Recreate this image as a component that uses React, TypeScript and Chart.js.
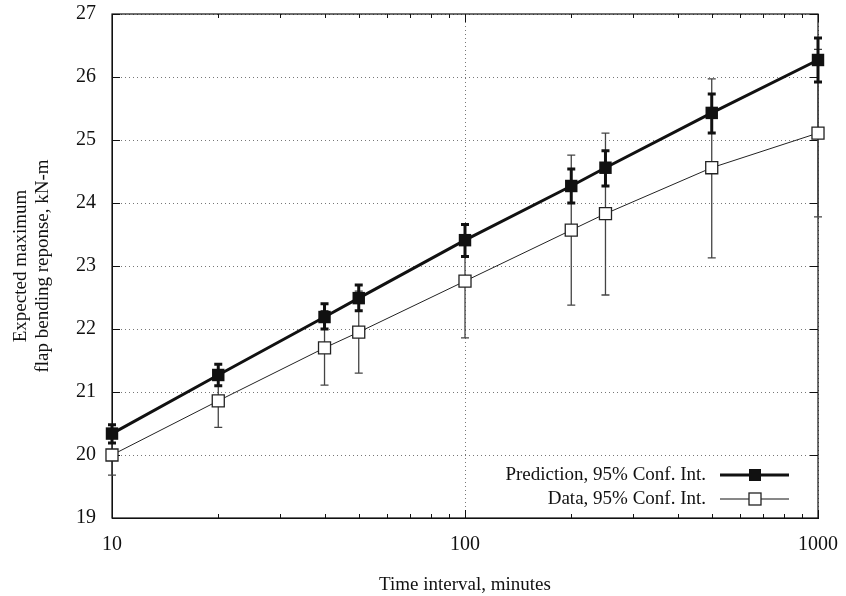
import React, { useEffect, useRef } from 'react';
import { Chart, registerables } from 'chart.js';

Chart.register(...registerables);

const intervals = [10, 20, 40, 50, 100, 200, 250, 500, 1000];
const predMean = [20.34, 21.27, 22.19, 22.49, 23.41, 24.27, 24.56, 25.43, 26.27];
const predLow = [20.19, 21.1, 22.0, 22.29, 23.15, 24.0, 24.27, 25.11, 25.92];
const predHigh = [20.48, 21.44, 22.4, 22.7, 23.66, 24.54, 24.83, 25.73, 26.62];
const dataMean = [20.0, 20.86, 21.7, 21.95, 22.76, 23.57, 23.83, 24.56, 25.11];
const dataLow = [19.68, 20.44, 21.11, 21.3, 21.86, 22.38, 22.54, 23.13, 23.78];
const dataHigh = [20.32, 21.28, 22.29, 22.6, 23.66, 24.76, 25.11, 25.97, 26.44];
const xTickValues = [10, 100, 1000];
const xMinorTicks = [20, 30, 40, 50, 60, 70, 80, 90, 200, 300, 400, 500, 600, 700, 800, 900];
const yTickValues = [19, 20, 21, 22, 23, 24, 25, 26, 27];
const seriesNames = ['Prediction, 95% Conf. Int.', 'Data, 95% Conf. Int.'];
const xTitle = 'Time interval, minutes';
const yTitle = ['Expected maximum', 'flap bending reponse, kN-m'];

const FONT = "'Liberation Serif', 'DejaVu Serif', serif";

const overlay = {
  id: 'overlay',
  beforeDatasetsDraw(chart: any) {
    const ctx = chart.ctx;
    const { left, right, top, bottom } = chart.chartArea;
    const xs = chart.scales.x;
    const ys = chart.scales.y;
    ctx.save();
    ctx.strokeStyle = '#111';
    ctx.lineWidth = 1.2;
    ctx.strokeRect(left, top, right - left, bottom - top);
    ctx.lineWidth = 1;
    ctx.beginPath();
    yTickValues.forEach((v) => {
      const y = Math.round(ys.getPixelForValue(v)) + 0.5;
      ctx.moveTo(left, y); ctx.lineTo(left + 8, y);
      ctx.moveTo(right, y); ctx.lineTo(right - 8, y);
    });
    xTickValues.forEach((v) => {
      const x = Math.round(xs.getPixelForValue(v)) + 0.5;
      ctx.moveTo(x, bottom); ctx.lineTo(x, bottom - 8);
      ctx.moveTo(x, top); ctx.lineTo(x, top + 8);
    });
    xMinorTicks.forEach((v) => {
      const x = Math.round(xs.getPixelForValue(v)) + 0.5;
      ctx.moveTo(x, bottom); ctx.lineTo(x, bottom - 4);
      ctx.moveTo(x, top); ctx.lineTo(x, top + 4);
    });
    ctx.stroke();

    const drawBars = (lo: number[], hi: number[], width: number, color: string, cap: number) => {
      ctx.strokeStyle = color;
      ctx.lineWidth = width;
      ctx.beginPath();
      intervals.forEach((t, i) => {
        const x = xs.getPixelForValue(t);
        const y1 = ys.getPixelForValue(lo[i]);
        const y2 = ys.getPixelForValue(hi[i]);
        ctx.moveTo(x, y1); ctx.lineTo(x, y2);
        ctx.moveTo(x - cap, y1); ctx.lineTo(x + cap, y1);
        ctx.moveTo(x - cap, y2); ctx.lineTo(x + cap, y2);
      });
      ctx.stroke();
    };
    drawBars(dataLow, dataHigh, 1.3, '#444', 4);
    drawBars(predLow, predHigh, 3, '#111', 4);
    ctx.restore();
  },
  afterDraw(chart: any) {
    const ctx = chart.ctx;
    ctx.save();
    ctx.font = `19px ${FONT}`;
    ctx.textAlign = 'right';
    ctx.textBaseline = 'middle';
    const rows = [
      { y: 475, lw: 3, fill: '#111', text: seriesNames[0] },
      { y: 499, lw: 1, fill: '#fff', text: seriesNames[1] },
    ];
    rows.forEach((r) => {
      ctx.fillStyle = '#111';
      ctx.fillText(r.text, 706, r.y);
      ctx.strokeStyle = '#111';
      ctx.lineWidth = r.lw;
      ctx.beginPath();
      ctx.moveTo(720, r.y); ctx.lineTo(789, r.y);
      ctx.stroke();
      ctx.fillStyle = r.fill;
      ctx.fillRect(749, r.y - 6, 12, 12);
      if (r.fill === '#fff') {
        ctx.lineWidth = 1.3;
        ctx.strokeStyle = '#222';
        ctx.strokeRect(749, r.y - 6, 12, 12);
      }
    });
    ctx.restore();
  },
};

export default function App() {
  const ref = useRef<HTMLCanvasElement | null>(null);
  useEffect(() => {
    if (!ref.current) return;
    const chart = new Chart(ref.current, {
      type: 'line',
      data: {
        datasets: [
          {
            label: seriesNames[0],
            data: intervals.map((t, i) => ({ x: t, y: predMean[i] })),
            borderColor: '#111',
            borderWidth: 3,
            backgroundColor: '#111',
            pointStyle: 'rect',
            pointRadius: 8.8,
            pointBorderWidth: 0,
            pointBackgroundColor: '#111',
            clip: false,
          } as any,
          {
            label: seriesNames[1],
            data: intervals.map((t, i) => ({ x: t, y: dataMean[i] })),
            borderColor: '#222',
            borderWidth: 1,
            backgroundColor: '#fff',
            pointStyle: 'rect',
            pointRadius: 8.5,
            pointBorderWidth: 1.3,
            pointBorderColor: '#222',
            pointBackgroundColor: '#fff',
            clip: false,
          } as any,
        ],
      },
      options: {
        animation: false,
        responsive: false,
        events: [],
        layout: { padding: { top: 14, right: 28, left: 0, bottom: 0 } } as any,
        plugins: { legend: { display: false }, tooltip: { enabled: false } },
        scales: {
          x: {
            type: 'logarithmic',
            min: 10,
            max: 1000,
            afterBuildTicks: (scale: any) => {
              scale.ticks = xTickValues.map((v) => ({ value: v, major: true }));
            },
            afterFit: (scale: any) => {
              scale.height = 78;
              scale.paddingLeft = 0;
              scale.paddingRight = 0;
            },
            ticks: {
              autoSkip: false,
              maxRotation: 0,
              padding: 15,
              color: '#111',
              font: { family: FONT, size: 20 },
              callback: (v: any) => String(v),
            },
            grid: { color: '#777', lineWidth: 1, drawTicks: false },
            border: { display: true, color: '#111', width: 1, dash: [1, 3] },
            title: {
              display: true,
              text: xTitle,
              color: '#111',
              font: { family: FONT, size: 19, lineHeight: '22px' as any },
              padding: { top: 0, bottom: 0 },
            },
          } as any,
          y: {
            type: 'linear',
            min: 19,
            max: 27,
            afterBuildTicks: (scale: any) => {
              scale.ticks = yTickValues.map((v) => ({ value: v }));
            },
            afterFit: (scale: any) => {
              scale.width = 112;
              scale.paddingTop = 0;
              scale.paddingBottom = 0;
            },
            ticks: {
              padding: 16,
              color: '#111',
              font: { family: FONT, size: 20 },
              callback: (v: any) => String(v),
            },
            grid: { color: '#777', lineWidth: 1, drawTicks: false },
            border: { display: true, color: '#111', width: 1, dash: [1, 3] },
            title: {
              display: true,
              text: yTitle,
              color: '#111',
              font: { family: FONT, size: 19, lineHeight: '22px' as any },
              padding: { top: 10, bottom: 0 },
            },
          } as any,
        },
      },
      plugins: [overlay],
    });
    return () => chart.destroy();
  }, []);
  return (
    <div style={{ position: 'absolute', left: 0, top: 0, width: 846, height: 596, background: '#fff' }}>
      <canvas ref={ref} width={846} height={596} />
    </div>
  );
}
